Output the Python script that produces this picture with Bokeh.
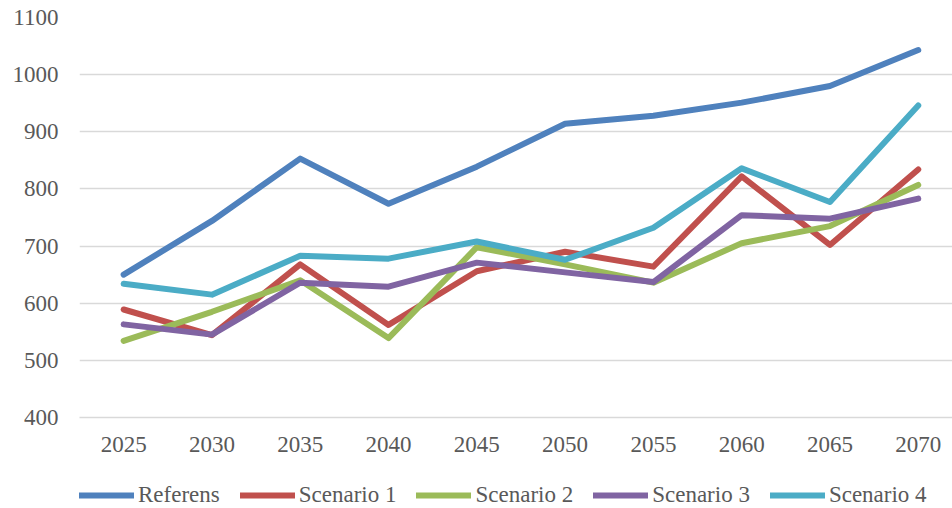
from bokeh.plotting import figure
from bokeh.models import Range1d, FixedTicker, Legend, LegendItem
from bokeh.layouts import column
from bokeh.embed import file_html
from bokeh.resources import INLINE

years = [2025, 2030, 2035, 2040, 2045, 2050, 2055, 2060, 2065, 2070]
referens = [650, 744, 853, 774, 839, 914, 928, 951, 980, 1043]
scenario1 = [589, 544, 668, 562, 656, 690, 664, 822, 702, 834]
scenario2 = [534, 585, 640, 539, 698, 668, 636, 705, 735, 807]
scenario3 = [563, 545, 636, 629, 671, 654, 637, 754, 748, 783]
scenario4 = [634, 615, 683, 678, 708, 676, 732, 836, 777, 946]

series_names = ["Referens", "Scenario 1", "Scenario 2", "Scenario 3", "Scenario 4"]
series_values = [referens, scenario1, scenario2, scenario3, scenario4]
colors = ["#4F81BD", "#C0504D", "#9BBB59", "#8064A2", "#4BACC6"]

FONT = "Times New Roman"
TEXT_COLOR = "#595959"
LINE_W = 6

p = figure(width=952, height=472, output_backend="svg", toolbar_location=None,
           x_range=Range1d(2022.5, 2071.94), y_range=Range1d(400, 1100),
           min_border_left=79, min_border_top=17, min_border_bottom=55, min_border_right=0)
p.outline_line_color = None
p.background_fill_color = "white"
p.border_fill_color = "white"

for name, vals, c in zip(series_names, series_values, colors):
    p.line(years, vals, line_color=c, line_width=LINE_W, line_cap="round", line_join="round")

p.xgrid.grid_line_color = None
p.ygrid.grid_line_color = "#D9D9D9"
p.ygrid.grid_line_width = 1.4
p.yaxis.ticker = FixedTicker(ticks=[400, 500, 600, 700, 800, 900, 1000, 1100])
p.xaxis.ticker = FixedTicker(ticks=years)

for ax in (p.xaxis[0], p.yaxis[0]):
    ax.major_tick_line_color = None
    ax.minor_tick_line_color = None
    ax.major_tick_out = 0
    ax.major_tick_in = 0
    ax.minor_tick_out = 0
    ax.major_label_text_font = FONT
    ax.major_label_text_font_size = "23px"
    ax.major_label_text_color = TEXT_COLOR
p.yaxis.axis_line_color = None
p.yaxis.major_label_standoff = 21
p.xaxis.axis_line_color = "#D9D9D9"
p.xaxis.axis_line_width = 1.4
p.xaxis.major_label_standoff = 19

# legend strip below the chart (series drawn out of view so only the legend shows)
p2 = figure(width=952, height=36, output_backend="svg", toolbar_location=None,
            x_range=p.x_range, y_range=Range1d(0, 1),
            x_axis_type=None, y_axis_type=None,
            min_border_left=0, min_border_right=0, min_border_top=0, min_border_bottom=0)
p2.outline_line_color = None
p2.grid.grid_line_color = None
p2.border_fill_color = "white"
p2.background_fill_color = "white"
items = []
for name, vals, c in zip(series_names, series_values, colors):
    r = p2.line(years, vals, line_color=c, line_width=LINE_W, line_cap="round")
    items.append(LegendItem(label=name, renderers=[r]))

legend = Legend(items=items, orientation="horizontal", location=(0, 0),
                glyph_width=55, glyph_height=20, label_height=20, label_standoff=4, spacing=20,
                padding=0, margin=0, border_line_color=None, background_fill_alpha=0,
                label_text_font=FONT, label_text_font_size="23px", label_text_color=TEXT_COLOR)
p2.add_layout(legend, "center")

layout = column(p, p2, spacing=0)
open("out.html", "w").write(file_html(layout, INLINE))
